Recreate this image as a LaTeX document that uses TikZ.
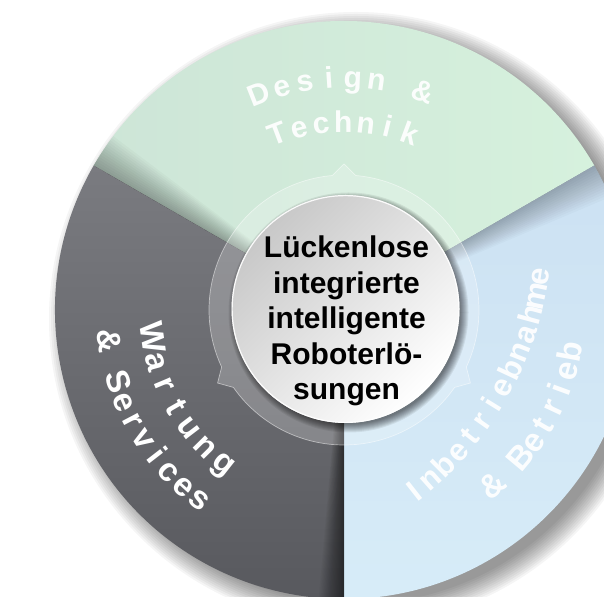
\documentclass[tikz,border=0pt]{standalone}
\usepackage{fontspec}
\setmainfont{Liberation Sans}
\newfontfamily\sidefont{Liberation Sans}[Scale=3.3]
\newfontfamily\longfont{Liberation Sans}[Scale=3.1]
\newfontfamily\topfont{Liberation Sans}[Scale=3.0]
\usetikzlibrary{calc}
\definecolor{greenL}{RGB}{205,229,215}
\definecolor{greenR}{RGB}{214,241,221}
\definecolor{grayT}{RGB}{122,123,128}
\definecolor{grayB}{RGB}{88,89,94}
\definecolor{blueT}{RGB}{204,225,242}
\definecolor{blueB}{RGB}{215,236,248}
\definecolor{discT}{RGB}{200,200,200}
\definecolor{discM}{RGB}{240,240,240}
\newdimen\arcW
\newdimen\arcCW
\newcount\arcN
% #1 name, #2 centre, #3 baseline radius, #4 start angle, #5 end angle, #6 font, #7 node options, #8 characters
\newcommand\arctext[8]{%
  \global\arcW=0pt \global\arcN=0
  \foreach \ch in {#8}{\setbox0=\hbox{\normalsize#6\ch}\global\advance\arcW by \wd0 \global\advance\arcN by 1 }%
  \pgfmathsetmacro\arcDir{((#5)>(#4)) ? 1 : -1}%
  \pgfmathsetmacro\arcLen{abs((#5)-(#4))*pi/180*(#3)}%
  \pgfmathsetmacro\arcSp{(\arcLen-\arcW)/(\arcN-1)}%
  \global\arcW=0pt
  \foreach \ch [count=\ci] in {#8}{%
    \setbox0=\hbox{\normalsize#6\ch}\arcCW=\wd0
    \pgfmathsetmacro\arcAng{(#4)+\arcDir*(\arcW+0.5*\arcCW)/(#3)*180/pi}%
    \node[anchor=base, inner sep=0pt, outer sep=0pt, rotate=\arcAng+\arcDir*90, font=\normalsize#6, #7] (#1-\ci) at ($(#2)+(\arcAng:#3pt)$) {\ch};
    \global\advance\arcW by \arcCW
    \global\advance\arcW by \arcSp pt
  }%
}
\begin{document}
\begin{tikzpicture}[x=1pt,y=1pt,
  ringstyle/.style={fill=white, fill opacity=0.22, draw=white, draw opacity=0.5, line width=0.7pt},
  centertext/.style={anchor=base, inner sep=0pt, font=\bfseries\fontsize{30}{36}\selectfont, text=black},
  lighttext/.style={text=white, text opacity=0.92},
  darktext/.style={text=white}]
\useasboundingbox (0,0) rectangle (604,596);
\fill[white] (0,0) rectangle (604,596);
\coordinate (C) at (344,286);
\coordinate (Dc) at (345.5,287);
\coordinate (Ic) at (206.8,368.4);
% outer drop shadow
\foreach \k in {0,2,...,22}{\fill[black, opacity=0.04] ($(C)+(12,-9)$) circle[radius=307pt-\k pt];}
% sectors
\shade[left color=greenL, right color=greenR] (C) -- ($(C)+(30:289pt)$) arc[start angle=30, end angle=150, radius=289pt] -- cycle;
\shade[top color=grayT, bottom color=grayB] (C) -- ($(C)+(150:289pt)$) arc[start angle=150, end angle=270, radius=289pt] -- cycle;
\shade[top color=blueT, bottom color=blueB] (C) -- ($(C)+(270:289pt)$) arc[start angle=270, end angle=390, radius=289pt] -- cycle;
% shadow bands at the sector ends
\foreach \w in {0.5,1,...,7}{\fill[black, opacity=0.022] (C) -- ($(C)+(150-\w:289pt)$) arc[start angle=150-\w, end angle=150, radius=289pt] -- cycle;}
\foreach \w in {0.25,0.5,...,5}{\fill[black, opacity=0.03] (C) -- ($(C)+(270-\w:289pt)$) arc[start angle=270-\w, end angle=270, radius=289pt] -- cycle;}
\foreach \w in {0.5,1,...,7}{\fill[black, opacity=0.018] (C) -- ($(C)+(30-\w:289pt)$) arc[start angle=30-\w, end angle=30, radius=289pt] -- cycle;}
% translucent ring with pointers
\path[ringstyle] ($(C)+(95:135pt)$) arc[start angle=95, end angle=205, radius=135pt] -- ($(C)+(210:146pt)$) -- ($(C)+(215:135pt)$) arc[start angle=215, end angle=325, radius=135pt] -- ($(C)+(330:146pt)$) -- ($(C)+(335:135pt)$) arc[start angle=335, end angle=445, radius=135pt] -- ($(C)+(90:146pt)$) -- cycle;
% centre disc shadow
\foreach \k in {0,...,8}{\fill[black, opacity=0.07] ($(Dc)+(3,-3.5)$) circle[radius=120pt-\k pt];}
% centre disc
\shade[top color=discT, middle color=discM, bottom color=white, shading angle=45] (Dc) circle[radius=114pt];
\draw[white, line width=1.2pt, opacity=0.9] (Dc) circle[radius=113.4pt];
% centre text
\node[centertext] (t1) at (346.5,338) {Lückenlose};
\node[centertext] (t2) at (346.5,302.5) {integrierte};
\node[centertext] (t3) at (346.5,267) {intelligente};
\node[centertext] (t4) at (346.5,231.5) {Roboterlö-};
\node[centertext] (t5) at (346.5,196) {sungen};
% curved labels
\arctext{dz1}{C}{222}{111.5}{70}{\topfont\bfseries}{lighttext}{D,e,s,i,g,n,~,\&}
\arctext{dz2}{C}{178}{110.8}{69.6}{\topfont\bfseries}{lighttext}{T,e,c,h,n,i,k}
\arctext{ws1}{C}{204}{188.1}{231.9}{\sidefont\bfseries}{darktext}{W,a,r,t,u,n,g}
\arctext{ws2}{C}{248}{187.6}{232.8}{\sidefont\bfseries}{darktext}{\&,~,S,e,r,v,i,c,e,s}
\arctext{ib1}{Ic}{346}{-51.8}{-8.4}{\longfont\bfseries}{lighttext}{I,n,b,e,t,r,i,e,b,n,a,h,m,e}
\arctext{ib2}{C}{241}{-49.7}{-10.3}{\sidefont\bfseries}{lighttext}{\&,~,B,e,t,r,i,e,b}
\end{tikzpicture}
\end{document}
